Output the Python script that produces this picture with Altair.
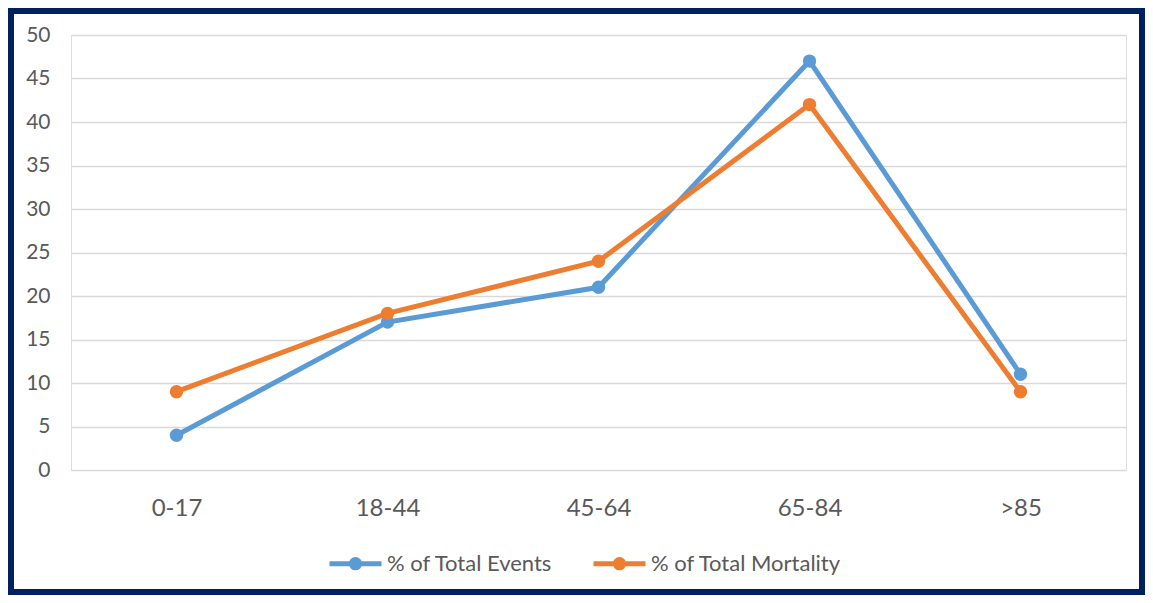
import altair as alt
import pandas as pd

categories = ["0-17", "18-44", "45-64", "65-84", ">85"]
events = [4, 17, 21, 47, 11]
mortality = [9, 18, 24, 42, 9]
series_names = ["% of Total Events", "% of Total Mortality"]
colors = ["#5B9BD5", "#ED7D31"]
y_ticks = [0, 5, 10, 15, 20, 25, 30, 35, 40, 45, 50]

rows = []
for name, vals in zip(series_names, [events, mortality]):
    for c, v in zip(categories, vals):
        rows.append({"age": c, "value": v, "series": name})
df = pd.DataFrame(rows)

W, H = 1055, 435
FONT = "Lato"
NAVY = "#002060"
GREY = "#595959"

legend_symbol = ("M-1,0L1,0M-0.16,0A0.16,0.16,0,1,1,0.16,0"
                 "A0.16,0.16,0,1,1,-0.16,0Z")

lines = alt.Chart(df).mark_line(
    strokeWidth=5,
    point=alt.OverlayMarkDef(filled=True, size=180, opacity=1),
).encode(
    x=alt.X("age:N", sort=categories, title=None,
            scale=alt.Scale(paddingInner=0, paddingOuter=0.5),
            axis=alt.Axis(labelAngle=0, domain=False, ticks=False,
                          labelFontSize=24, labelColor=GREY,
                          labelFont=FONT, labelPadding=26)),
    y=alt.Y("value:Q", title=None,
            scale=alt.Scale(domain=[0, 50], nice=False),
            axis=alt.Axis(values=y_ticks, domain=False, ticks=False,
                          labelFontSize=21, labelColor=GREY,
                          labelFont=FONT, labelPadding=21,
                          gridColor="#D9D9D9", gridWidth=1.5)),
    color=alt.Color("series:N", sort=series_names,
                    scale=alt.Scale(domain=series_names, range=colors),
                    legend=alt.Legend(
                        title=None, orient="none", direction="horizontal",
                        legendX=256, legendY=500,
                        symbolType=legend_symbol, symbolSize=2704,
                        symbolStrokeWidth=5, labelFontSize=22,
                        labelFont=FONT, labelColor=GREY, labelLimit=400,
                        labelOffset=3, columnPadding=30)),
)

frame = alt.Chart(alt.Data(values=[{}])).mark_rect(
    fill=None, stroke=NAVY, strokeWidth=6, fillOpacity=0
).encode(
    x=alt.value(-60), x2=alt.value(1071),
    y=alt.value(-24), y2=alt.value(557),
)

chart = alt.layer(lines, frame).properties(
    width=W, height=H, padding=0
).configure_view(stroke=None).configure(background="white")

chart.save("out.html", embed_options={"renderer": "svg", "actions": False})
